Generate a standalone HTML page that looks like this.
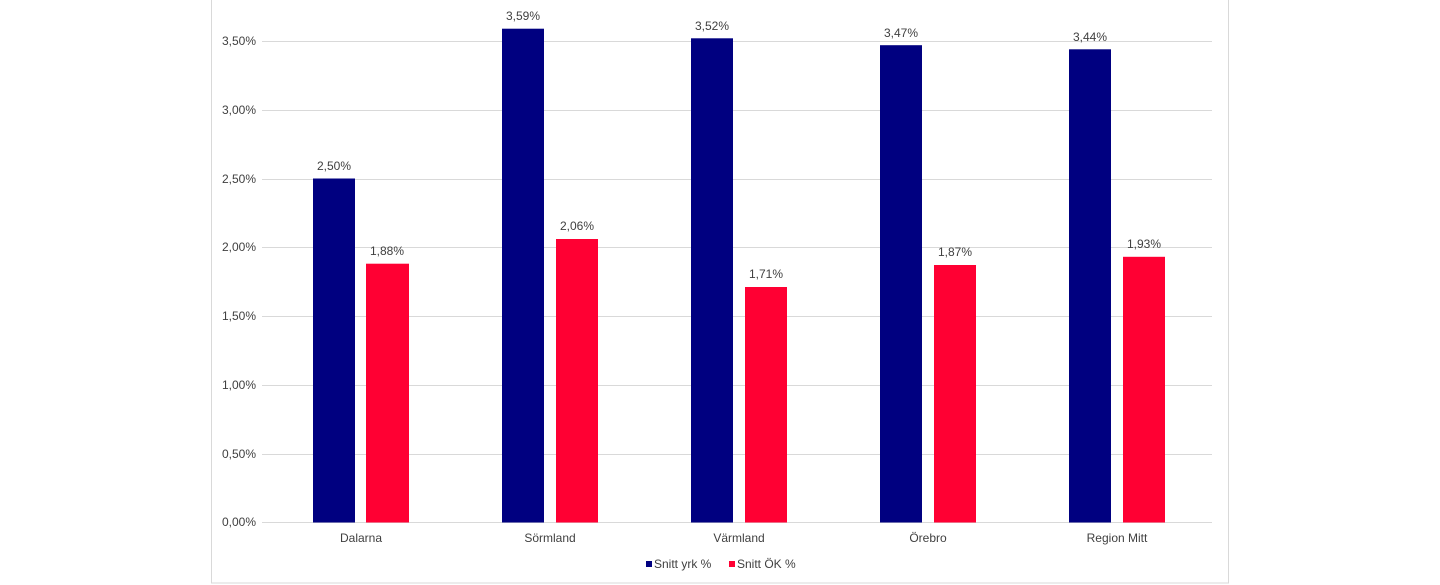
<!DOCTYPE html>
<html><head><style>
html,body{margin:0;padding:0;background:#fff;}
svg{display:block;font-family:"Liberation Sans",sans-serif;}
</style></head><body>
<svg width="1440" height="585" xmlns="http://www.w3.org/2000/svg">
<rect x="211.5" y="-2" width="1017" height="585" fill="#fff" stroke="#d9d9d9" stroke-width="1"/>
<g stroke="#d9d9d9" stroke-width="1">
<line x1="262" x2="1212" y1="41.5" y2="41.5"/>
<line x1="262" x2="1212" y1="110.5" y2="110.5"/>
<line x1="262" x2="1212" y1="179.5" y2="179.5"/>
<line x1="262" x2="1212" y1="247.5" y2="247.5"/>
<line x1="262" x2="1212" y1="316.5" y2="316.5"/>
<line x1="262" x2="1212" y1="385.5" y2="385.5"/>
<line x1="262" x2="1212" y1="454.5" y2="454.5"/>
<line x1="262" x2="1212" y1="522.5" y2="522.5"/>
</g>
<g font-size="12" fill="#404040" text-anchor="end">
<text x="256" y="45">3,50%</text>
<text x="256" y="114">3,00%</text>
<text x="256" y="183">2,50%</text>
<text x="256" y="251">2,00%</text>
<text x="256" y="320">1,50%</text>
<text x="256" y="389">1,00%</text>
<text x="256" y="458">0,50%</text>
<text x="256" y="526">0,00%</text>
</g>
<g fill="#000080">
<rect x="313" y="178.5" width="42" height="344"/>
<rect x="502" y="28.7" width="42" height="493.8"/>
<rect x="691" y="38.3" width="42" height="484.2"/>
<rect x="880" y="45.2" width="42" height="477.3"/>
<rect x="1069" y="49.3" width="42" height="473.2"/>
</g>
<g fill="#ff0033">
<rect x="366" y="263.7" width="43" height="258.8"/>
<rect x="556" y="239" width="42" height="283.5"/>
<rect x="745" y="287" width="42" height="235.5"/>
<rect x="934" y="265" width="42" height="257.5"/>
<rect x="1123" y="256.8" width="42" height="265.7"/>
</g>
<g font-size="12" fill="#404040" text-anchor="middle">
<text x="334" y="170">2,50%</text>
<text x="523" y="20">3,59%</text>
<text x="712" y="30">3,52%</text>
<text x="901" y="37">3,47%</text>
<text x="1090" y="41">3,44%</text>
<text x="387" y="255">1,88%</text>
<text x="577" y="230">2,06%</text>
<text x="766" y="278">1,71%</text>
<text x="955" y="256">1,87%</text>
<text x="1144" y="248">1,93%</text>
<text x="361" y="542">Dalarna</text>
<text x="550" y="542">Sörmland</text>
<text x="739" y="542">Värmland</text>
<text x="928" y="542">Örebro</text>
<text x="1117" y="542">Region Mitt</text>
</g>
<rect x="646" y="561" width="6" height="6" fill="#000080"/>
<text x="654" y="568" font-size="12" fill="#404040">Snitt yrk %</text>
<rect x="729" y="561" width="6" height="6" fill="#ff0033"/>
<text x="737" y="568" font-size="12" fill="#404040">Snitt ÖK %</text>
</svg>
</body></html>
